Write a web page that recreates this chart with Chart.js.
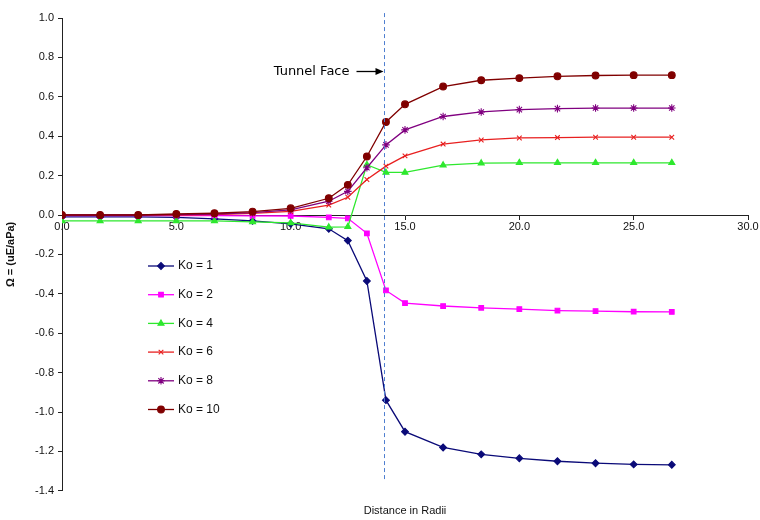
<!DOCTYPE html>
<html>
<head>
<meta charset="utf-8">
<script src="https://cdn.jsdelivr.net/npm/chart.js@4"></script>
<style>
  html, body { margin: 0; padding: 0; background: #ffffff; }
  #wrap { width: 760px; height: 520px; }
</style>
</head>
<body>
<div id="wrap"><canvas id="c" width="760" height="520"></canvas></div>
<script>
// ---- data ----
const distance = [0, 1.667, 3.333, 5, 6.667, 8.333, 10, 11.667, 12.5, 13.333, 14.167, 15, 16.667, 18.333, 20, 21.667, 23.333, 25, 26.667];
const ko1  = [-0.010, -0.010, -0.010, -0.012, -0.020, -0.030, -0.045, -0.070, -0.130, -0.335, -0.940, -1.100, -1.180, -1.215, -1.235, -1.250, -1.260, -1.266, -1.268];
const ko2  = [-0.003, -0.003, -0.003, -0.003, -0.003, -0.004, -0.005, -0.012, -0.017, -0.093, -0.383, -0.447, -0.462, -0.471, -0.478, -0.485, -0.488, -0.491, -0.492];
const ko4  = [-0.030, -0.030, -0.030, -0.030, -0.030, -0.035, -0.040, -0.062, -0.060, 0.255, 0.216, 0.216, 0.253, 0.263, 0.265, 0.265, 0.265, 0.265, 0.265];
const ko6  = [0.000, 0.000, 0.000, 0.000, 0.002, 0.008, 0.018, 0.050, 0.090, 0.180, 0.248, 0.300, 0.360, 0.381, 0.391, 0.393, 0.395, 0.395, 0.395];
const ko8  = [0.000, 0.000, 0.000, 0.002, 0.005, 0.012, 0.026, 0.070, 0.120, 0.240, 0.356, 0.432, 0.500, 0.523, 0.535, 0.540, 0.543, 0.543, 0.543];
const ko10 = [0.000, 0.000, 0.000, 0.005, 0.009, 0.017, 0.034, 0.085, 0.153, 0.297, 0.472, 0.562, 0.652, 0.684, 0.695, 0.704, 0.708, 0.710, 0.710];
const seriesLabels = ['Ko = 1', 'Ko = 2', 'Ko = 4', 'Ko = 6', 'Ko = 8', 'Ko = 10'];
const tunnelFaceX = 14.1;
const tunnelFaceLabel = 'Tunnel Face';
const xTitle = 'Distance in Radii';
const yTitle = 'Ω = (uE/aPa)';

// ---- styles ----
const seriesValues = [ko1, ko2, ko4, ko6, ko8, ko10];
const colors = ['#0a0a78', '#ff00ff', '#2ee82e', '#e82020', '#800080', '#800000'];
const styles = ['rectRot', 'rect', 'triangle', 'crossRot', 'star', 'circle'];
const radii = [3.4, 3.3, 3.5, 3.3, 3.8, 3.4];

const datasets = seriesValues.map((vals, i) => ({
  label: seriesLabels[i],
  data: distance.map((d, k) => ({ x: d, y: vals[k] })),
  borderColor: colors[i],
  backgroundColor: colors[i],
  pointBackgroundColor: colors[i],
  pointBorderColor: colors[i],
  pointStyle: styles[i],
  pointRadius: radii[i],
  pointBorderWidth: 1.1,
  borderWidth: 1.3,
  tension: 0,
  order: seriesValues.length - i
}));

function fmt(v) { return Math.abs(v) < 1e-9 ? '0.0' : v.toFixed(1); }

const legendPlugin = {
  id: 'sideLegend',
  afterDraw(chart) {
    const ctx = chart.ctx;
    const ca = chart.chartArea;
    chart.data.datasets.forEach((ds, i) => {
      const y = 266 + i * 28.7;
      const x0 = ca.left + 86;
      ctx.save();
      ctx.strokeStyle = ds.borderColor;
      ctx.lineWidth = ds.borderWidth;
      ctx.beginPath(); ctx.moveTo(x0, y); ctx.lineTo(x0 + 26, y); ctx.stroke();
      ctx.fillStyle = ds.pointBackgroundColor;
      ctx.strokeStyle = ds.pointBorderColor;
      ctx.lineWidth = 1.1;
      Chart.helpers.drawPoint(ctx, { pointStyle: ds.pointStyle, radius: ds.pointRadius, rotation: 0, borderWidth: 1.1 }, x0 + 13, y);
      ctx.fillStyle = '#111';
      ctx.font = '12px "Liberation Sans", Arial, sans-serif';
      ctx.textBaseline = 'middle';
      ctx.textAlign = 'left';
      ctx.fillText(ds.label, x0 + 30, y);
      ctx.restore();
    });
  }
};

const tunnelPlugin = {
  id: 'tunnelFace',
  afterDatasetsDraw(chart) {
    const { ctx, scales: { x, y } } = chart;
    const px = Math.round(x.getPixelForValue(tunnelFaceX)) + 0.5;
    ctx.save();
    ctx.setLineDash([4, 3]);
    ctx.strokeStyle = '#4f7fd0';
    ctx.lineWidth = 1;
    ctx.beginPath();
    ctx.moveTo(px, y.getPixelForValue(1.025));
    ctx.lineTo(px, y.getPixelForValue(-1.355));
    ctx.stroke();
    ctx.setLineDash([]);
    const ty = Math.round(y.getPixelForValue(0.73)) + 0.5;
    ctx.strokeStyle = '#000';
    ctx.lineWidth = 1.3;
    ctx.beginPath(); ctx.moveTo(px - 28, ty); ctx.lineTo(px - 7, ty); ctx.stroke();
    ctx.fillStyle = '#000';
    ctx.beginPath(); ctx.moveTo(px - 1, ty); ctx.lineTo(px - 9, ty - 3.5); ctx.lineTo(px - 9, ty + 3.5); ctx.closePath(); ctx.fill();
    ctx.font = '13px "DejaVu Sans", sans-serif';
    ctx.textAlign = 'right';
    ctx.textBaseline = 'middle';
    ctx.fillText(tunnelFaceLabel, px - 35, ty);
    ctx.restore();
  }
};

const bgPlugin = {
  id: 'bg',
  beforeDraw(chart) {
    const ctx = chart.ctx;
    ctx.save(); ctx.fillStyle = '#fff'; ctx.fillRect(0, 0, chart.width, chart.height); ctx.restore();
  }
};

new Chart(document.getElementById('c'), {
  type: 'line',
  data: { datasets },
  plugins: [bgPlugin, tunnelPlugin, legendPlugin],
  options: {
    responsive: false,
    animation: false,
    layout: { padding: { left: 0, top: 18, right: 12, bottom: 0 } },
    plugins: {
      legend: { display: false },
      tooltip: { enabled: false },
      title: {
        display: true,
        text: xTitle,
        position: 'bottom',
        fullSize: false,
        color: '#111',
        font: { family: '"Liberation Sans", Arial, sans-serif', size: 11, weight: 'normal' },
        padding: { top: 14, bottom: 2 }
      }
    },
    scales: {
      x: {
        type: 'linear',
        position: { y: 0 },
        min: 0, max: 30,
        grid: { display: true, drawOnChartArea: false, drawTicks: true, tickLength: 4, color: '#222' },
        border: { display: true, color: '#222', width: 1 },
        ticks: {
          stepSize: 5,
          padding: 1,
          color: '#111',
          maxRotation: 0,
          font: { family: '"Liberation Sans", Arial, sans-serif', size: 11 },
          callback: (v) => fmt(v)
        }
      },
      y: {
        type: 'linear',
        position: 'left',
        min: -1.4, max: 1.0,
        afterFit: (s) => { s.width = 62; },
        grid: { display: true, drawOnChartArea: false, drawTicks: true, tickLength: 4, color: '#222' },
        border: { display: true, color: '#222', width: 1 },
        title: {
          display: true,
          text: yTitle,
          color: '#111',
          font: { family: '"Liberation Sans", Arial, sans-serif', size: 11, weight: 'bold' },
          padding: { top: 4, bottom: 2 }
        },
        ticks: {
          stepSize: 0.2,
          padding: 4,
          color: '#111',
          font: { family: '"Liberation Sans", Arial, sans-serif', size: 11 },
          callback: (v) => fmt(v)
        }
      }
    }
  }
});
</script>
</body>
</html>
